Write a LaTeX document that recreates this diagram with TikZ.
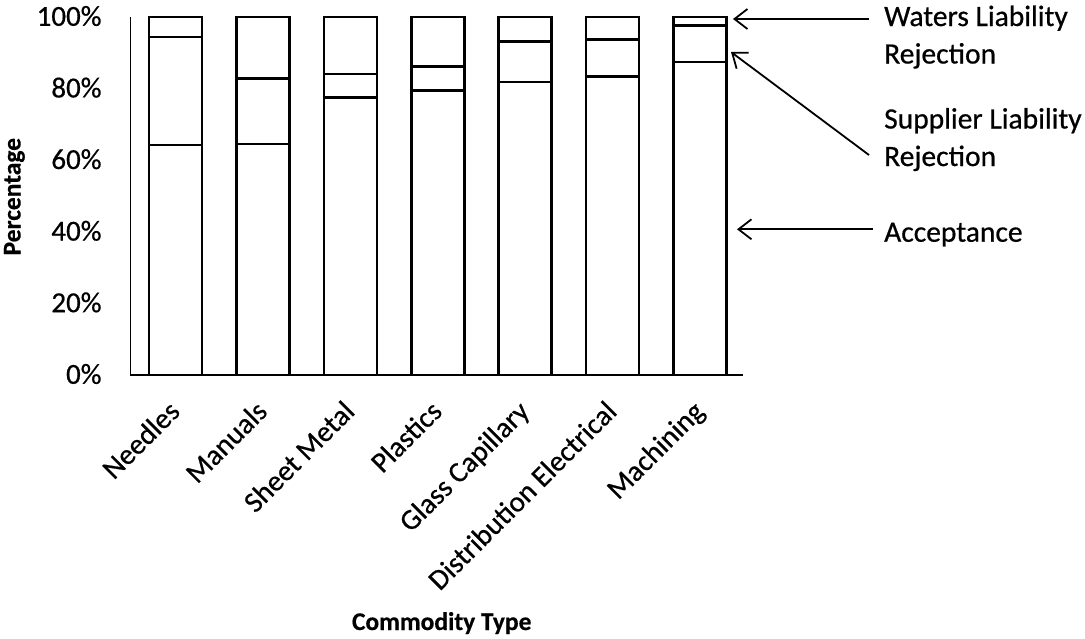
\documentclass[tikz,border=0pt]{standalone}
\usepackage{fontspec}
\setmainfont{Carlito}[FakeBold=0.6,BoldFont=Carlito Bold,BoldFeatures={FakeBold=0.4}]
\usetikzlibrary{arrows.meta}
\begin{document}
\begin{tikzpicture}[x=1pt,y=-1pt,
  barbox/.style={draw=black,line width=2.6pt,fill=white},
  segline/.style={draw=black,line width=2.6pt},
  axisline/.style={draw=black,line width=1.8pt},
  ticklabel/.style={anchor=east,inner sep=0pt,font=\fontsize{29}{34}\selectfont},
  catlabel/.style={anchor=base east,rotate=45,inner sep=0pt,font=\fontsize{29}{34}\selectfont},
  axistitle/.style={inner sep=0pt,font=\bfseries\fontsize{25.5}{30}\selectfont},
  legendlabel/.style={anchor=base west,align=left,inner sep=0pt,font=\fontsize{29.5}{37.5}\selectfont},
  pointer/.style={draw=black,line width=1.8pt,-{Straight Barb[length=13pt,width=20pt,line width=1.8pt]}}
]
\useasboundingbox[fill=white] (0,0) rectangle (1085,638);

% stacked 100% bars: centre / acceptance share / acceptance + supplier share
\foreach \cx/\a/\b [count=\i] in {175.5/64.2/94.4, 262.9/64.5/82.9, 350.3/77.5/84.1,
    437.7/79.4/86.2, 525.1/81.8/93.1, 612.5/83.3/93.8, 699.9/87.4/97.7} {
  \pgfmathsetmacro\ya{375-3.58*\a}
  \pgfmathsetmacro\yb{375-3.58*\b}
  \draw[barbox] (\cx-26.5,375) rectangle (\cx+26.5,17);
  \draw[segline] (\cx-26.5,\ya) -- (\cx+26.5,\ya);
  \draw[segline] (\cx-26.5,\yb) -- (\cx+26.5,\yb);
  \coordinate (tick\i) at (\cx+6,413);
}

% axes
\draw[axisline] (130.5,17) -- (130.5,375) -- (743,375);

% value axis labels
\foreach \p in {0,20,...,100} {
  \node[ticklabel] (v\p) at (101.7,{374-3.58*\p}) {\p\%};
}

% category labels
\node[catlabel] (c1) at (tick1) {Needles};
\node[catlabel] (c2) at (tick2) {Manuals};
\node[catlabel] (c3) at (tick3) {Sheet Metal};
\node[catlabel] (c4) at (tick4) {Plastics};
\node[catlabel] (c5) at (tick5) {Glass Capillary};
\node[catlabel] (c6) at (tick6) {Distribution Electrical};
\node[catlabel] (c7) at (tick7) {Machining};

% axis titles
\node[axistitle,anchor=base] (xtitle) at (441.7,630) {Commodity Type};
\node[axistitle,anchor=base,rotate=90] (ytitle) at (20.5,196.7) {Percentage};

% series labels (anchored on the baseline of their last line)
\node[legendlabel] (lwaters) at (884,63.5) {Waters Liability\\Rejection};
\node[legendlabel] (lsupplier) at (884,166) {Supplier Liability\\Rejection};
\node[legendlabel] (laccept) at (884,241.7) {Acceptance};

\coordinate (swaters) at (869,19);
\coordinate (twaters) at (733,19);
\coordinate (ssupplier) at (869,155);
\coordinate (tsupplier) at (731,52);
\coordinate (saccept) at (872.7,229.3);
\coordinate (taccept) at (737,229.3);

\draw[pointer] (swaters) -- (twaters);
\draw[pointer] (ssupplier) -- (tsupplier);
\draw[pointer] (saccept) -- (taccept);
\end{tikzpicture}
\end{document}
